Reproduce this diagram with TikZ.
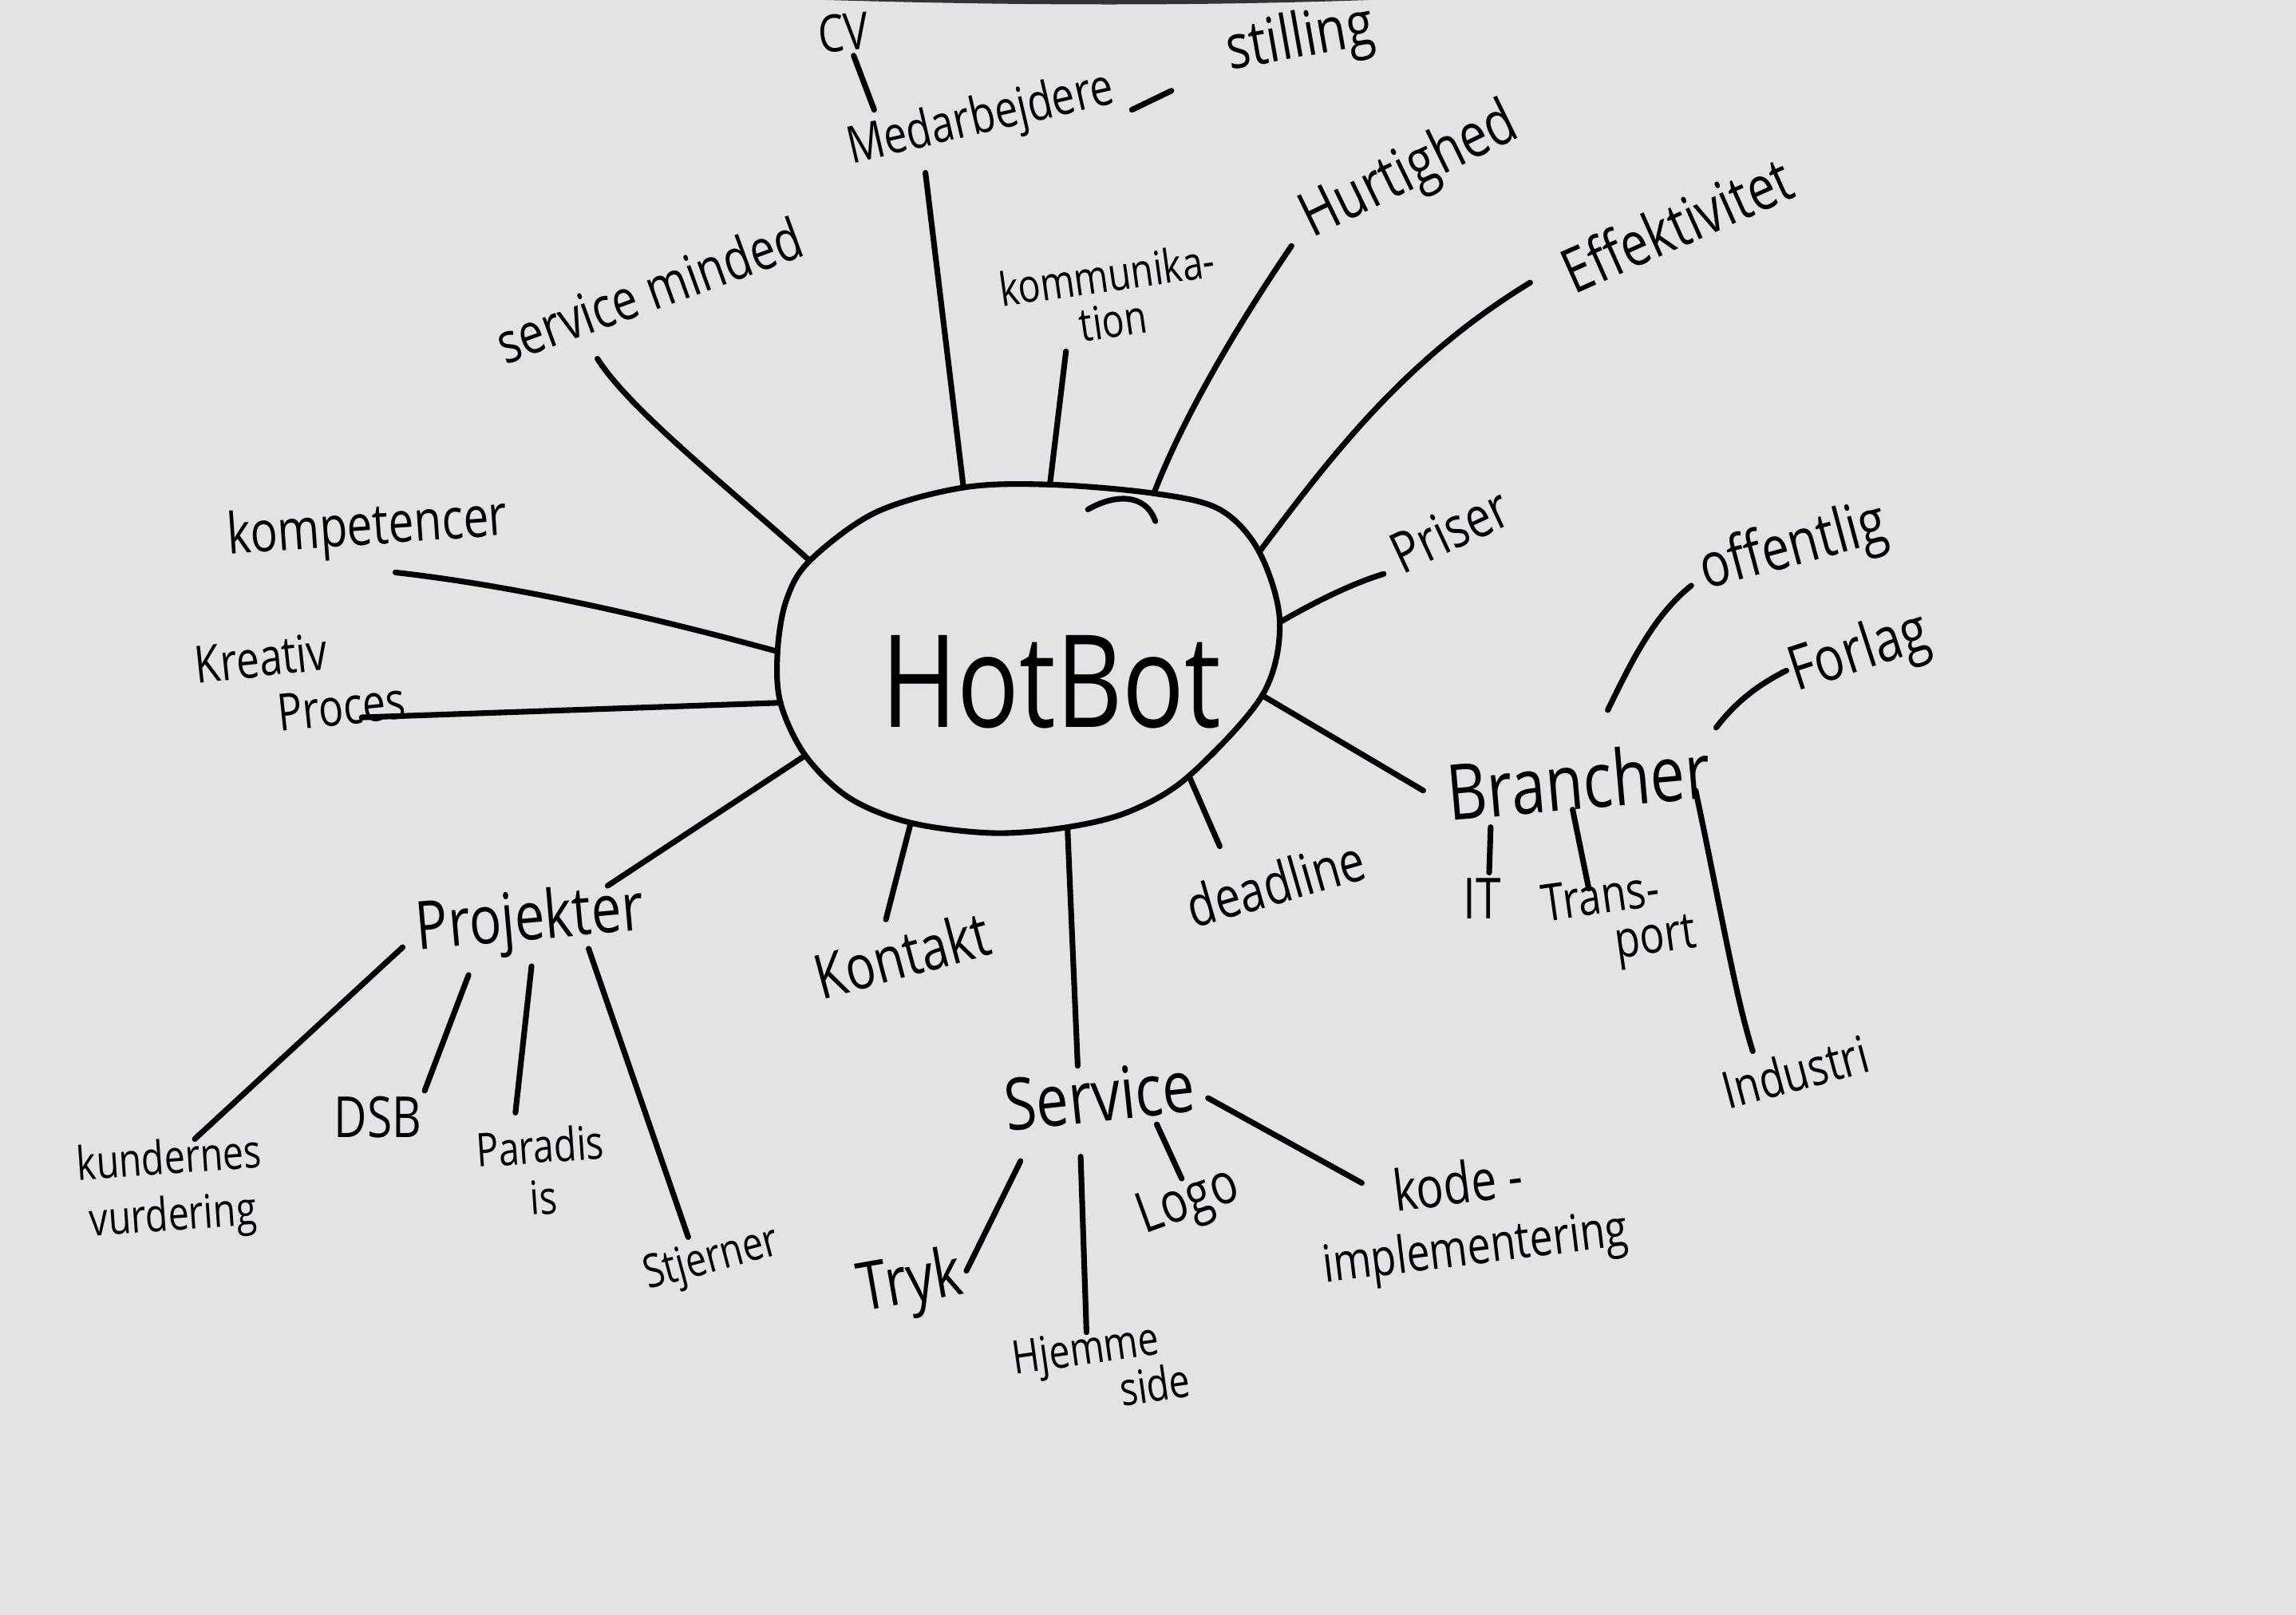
\documentclass[tikz,border=0pt]{standalone}
\usepackage{fontspec}
\setmainfont{Open Sans}
\newcommand{\hwr}[1]{\scalebox{0.8}[1]{#1}}
\newcommand{\fz}[1]{\fontsize{#1}{#1}\selectfont}
\definecolor{paper}{RGB}{227,227,229}
\begin{document}
\begin{tikzpicture}[x=0.01cm,y=-0.01cm,
  conn/.style={line width=1.1pt,line cap=round,line join=round,black},
  lab/.style={inner sep=0pt,align=center,text=black},
  labl/.style={inner sep=0pt,align=left,text=black}]
\fill[paper] (0,0) rectangle (1568,1103);
\useasboundingbox (0,0) rectangle (1568,1103);
\fill[black!80] (565,0) .. controls (700,4) and (820,4) .. (935,0) -- cycle;

% ---------- hub (blob) ----------
\coordinate (h-kompet) at (531,445);
\coordinate (h-servmind) at (553,383);
\coordinate (h-medarb) at (658,333);
\coordinate (h-komm) at (717,331);
\coordinate (h-hurt) at (788,337);
\coordinate (h-effekt) at (860,377);
\coordinate (h-priser) at (874,425);
\coordinate (h-branch) at (862,475);
\coordinate (h-dead) at (812,530);
\coordinate (h-serv) at (729,565);
\coordinate (h-kont) at (622,562);
\coordinate (h-proj) at (550,516);
\coordinate (h-kreat) at (533,480);
\draw[conn] plot[smooth cycle,tension=0.55] coordinates {(h-kompet) (537,410) (h-servmind) (598,350) (h-medarb) (h-komm) (h-hurt) (833,348) (h-effekt) (h-priser) (h-branch) (h-dead) (772,554) (h-serv) (678,569) (h-kont) (580,545) (h-proj) (h-kreat)};
\node[lab,font=\fz{25}] (hub) at (718,466) {\hwr{HotBot}};
\draw[conn] (743,348) .. controls (760,338) and (782,336) .. (789,356);

% ---------- labels ----------
\node[lab,font=\fz{10},rotate=5] (cv) at (576,22) {\hwr{CV}};
\node[lab,font=\fz{10},rotate=13] (medarb) at (670,82) {\hwr{Medarbejdere}};
\node[lab,font=\fz{12},rotate=10] (stilling) at (888,28) {\hwr{stilling}};
\node[lab,font=\fz{11},rotate=20] (servmind) at (443,198) {\hwr{service minded}};
\node[lab,font=\fontsize{9}{9}\selectfont,rotate=8] (komm) at (758,203) {\hwr{kommunika-}\\\hwr{tion}};
\node[lab,font=\fz{12},rotate=26] (hurt) at (963,118) {\hwr{Hurtighed}};
\node[lab,font=\fz{12},rotate=24] (effekt) at (1145,153) {\hwr{Effektivitet}};
\node[lab,font=\fz{11},rotate=25] (priser) at (990,362) {\hwr{Priser}};
\node[lab,font=\fz{11},rotate=4] (kompet) at (251,362) {\hwr{kompetencer}};
\node[labl,font=\fontsize{10}{11}\selectfont,rotate=6] (kreativ) at (205,466) {\hwr{Kreativ}\\\hspace{1.5em}\hwr{Proces}};
\node[lab,font=\fz{13},rotate=5] (projekter) at (362,630) {\hwr{Projekter}};
\node[lab,font=\fz{12},rotate=15] (kontakt) at (616,652) {\hwr{Kontakt}};
\node[lab,font=\fz{11},rotate=16] (deadline) at (871,603) {\hwr{deadline}};
\node[lab,font=\fz{14},rotate=6] (service) at (751,748) {\hwr{Service}};
\node[lab,font=\fz{15},rotate=5] (brancher) at (1078,533) {\hwr{Brancher}};
\node[lab,font=\fz{12},rotate=15] (offentlig) at (1225,375) {\hwr{offentlig}};
\node[lab,font=\fz{12},rotate=18] (forlag) at (1270,447) {\hwr{Forlag}};
\node[lab,font=\fz{11}] (it) at (1012,614) {\hwr{IT}};
\node[labl,font=\fontsize{10}{9}\selectfont,rotate=8] (transport) at (1106,630) {\hwr{Trans-}\\\hspace{1.3em}\hwr{port}};
\node[lab,font=\fz{10},rotate=15] (industri) at (1226,732) {\hwr{Industri}};
\node[lab,font=\fontsize{9}{11}\selectfont,rotate=4] (kundernes) at (117,813) {\hwr{kundernes}\\\hwr{vurdering}};
\node[lab,font=\fz{11}] (dsb) at (258,763) {\hwr{DSB}};
\node[lab,font=\fontsize{9}{10}\selectfont,rotate=4] (paradis) at (370,800) {\hwr{Paradis}\\\hwr{is}};
\node[lab,font=\fz{9},rotate=15] (stjerner) at (486,861) {\hwr{Stjerner}};
\node[lab,font=\fz{13},rotate=10] (tryk) at (622,878) {\hwr{Tryk}};
\node[labl,font=\fontsize{9}{9}\selectfont,rotate=8] (hjemme) at (752,935) {\hwr{Hjemme}\\\hspace{2.2em}\hwr{side}};
\node[lab,font=\fz{11},rotate=20] (logo) at (812,822) {\hwr{Logo}};
\node[labl,font=\fontsize{11}{12}\selectfont,rotate=7] (kode) at (1005,832) {\hspace{1.4em}\hwr{kode -}\\\hwr{\fz{10}implementering}};

% ---------- label-side ends ----------
\coordinate (x-cv1) at (583,38);
\coordinate (x-cv2) at (597,75);
\coordinate (x-st1) at (773,75);
\coordinate (x-st2) at (800,62);
\coordinate (x-medarb) at (632,118);
\coordinate (x-servmind) at (408,245);
\coordinate (x-komm) at (728,240);
\coordinate (x-hurt) at (882,168);
\coordinate (x-effekt) at (1045,193);
\coordinate (x-priser) at (945,392);
\coordinate (x-kompet) at (270,391);
\coordinate (x-kreat) at (247,490);
\coordinate (x-proj) at (415,605);
\coordinate (x-kont) at (605,628);
\coordinate (x-dead) at (833,578);
\coordinate (x-serv) at (736,728);
\coordinate (x-branch) at (972,540);
\coordinate (b-off) at (1098,485);
\coordinate (x-off) at (1155,400);
\coordinate (b-forl) at (1172,497);
\coordinate (x-forl) at (1220,458);
\coordinate (b-it) at (1018,565);
\coordinate (x-it) at (1017,596);
\coordinate (b-trans) at (1074,553);
\coordinate (x-trans) at (1085,607);
\coordinate (b-ind) at (1158,540);
\coordinate (x-ind) at (1197,718);
\coordinate (p-kund) at (275,647);
\coordinate (x-kund) at (133,778);
\coordinate (p-dsb) at (320,666);
\coordinate (x-dsb) at (290,745);
\coordinate (p-par) at (363,660);
\coordinate (x-par) at (352,760);
\coordinate (p-stj) at (402,648);
\coordinate (x-stj) at (470,845);
\coordinate (s-tryk) at (697,793);
\coordinate (x-tryk) at (660,868);
\coordinate (s-hj) at (738,790);
\coordinate (x-hj) at (742,910);
\coordinate (s-logo) at (790,768);
\coordinate (x-logo) at (807,805);
\coordinate (s-kode) at (825,750);
\coordinate (x-kode) at (930,808);

% ---------- connectors ----------
\draw[conn] (x-cv1) -- (x-cv2);
\draw[conn] (x-st1) -- (x-st2);
\draw[conn] (h-medarb) -- (x-medarb);
\draw[conn] (h-servmind) .. controls (500,335) and (430,280) .. (x-servmind);
\draw[conn] (h-komm) -- (x-komm);
\draw[conn] (h-hurt) .. controls (810,280) and (850,215) .. (x-hurt);
\draw[conn] (h-effekt) .. controls (910,310) and (960,245) .. (x-effekt);
\draw[conn] (h-priser) .. controls (900,410) and (925,398) .. (x-priser);
\draw[conn] (h-kompet) .. controls (440,420) and (350,400) .. (x-kompet);
\draw[conn] (h-kreat) -- (x-kreat);
\draw[conn] (h-proj) -- (x-proj);
\draw[conn] (h-kont) -- (x-kont);
\draw[conn] (h-dead) -- (x-dead);
\draw[conn] (h-serv) -- (x-serv);
\draw[conn] (h-branch) -- (x-branch);
\draw[conn] (b-off) .. controls (1115,450) and (1130,420) .. (x-off);
\draw[conn] (b-forl) .. controls (1185,480) and (1200,468) .. (x-forl);
\draw[conn] (b-it) -- (x-it);
\draw[conn] (b-trans) -- (x-trans);
\draw[conn] (b-ind) .. controls (1175,620) and (1185,680) .. (x-ind);
\draw[conn] (p-kund) -- (x-kund);
\draw[conn] (p-dsb) -- (x-dsb);
\draw[conn] (p-par) -- (x-par);
\draw[conn] (p-stj) -- (x-stj);
\draw[conn] (s-tryk) -- (x-tryk);
\draw[conn] (s-hj) -- (x-hj);
\draw[conn] (s-logo) -- (x-logo);
\draw[conn] (s-kode) -- (x-kode);
\end{tikzpicture}
\end{document}
